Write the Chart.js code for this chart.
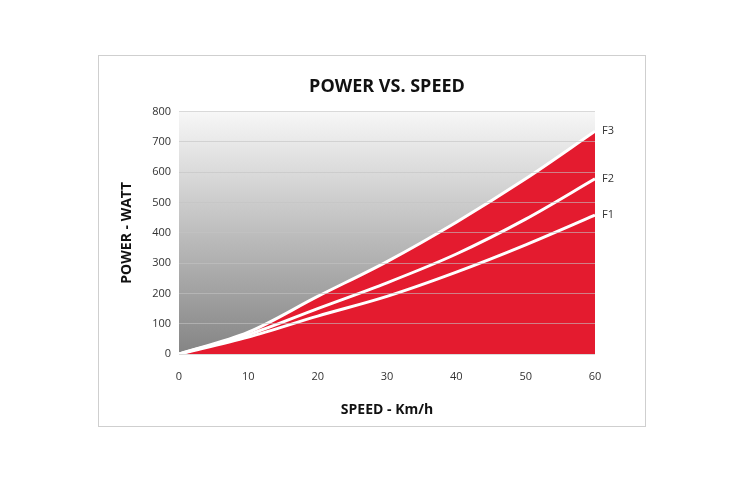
<!DOCTYPE html>
<html>
<head>
<meta charset="utf-8">
<script src="https://cdn.jsdelivr.net/npm/chart.js@4/dist/chart.umd.min.js"></script>
<style>
  html, body { margin: 0; padding: 0; background: #fff; }
  #card {
    position: absolute; left: 98px; top: 55px;
    width: 546px; height: 370px;
    border: 1px solid #cfcfcf;
  }
  #card canvas { display: block; }
</style>
</head>
<body>
<div id="card"><canvas id="chart" width="546" height="370"></canvas></div>
<script>
// speed in km/h
const speeds = [0, 10, 20, 30, 40, 50, 60];
// power in watt
const f1 = [0, 56, 125, 190, 270, 360, 458];
const f2 = [0, 64, 150, 235, 330, 445, 578];
const f3 = [0, 72, 190, 305, 435, 578, 735];
const seriesNames = ['F3', 'F2', 'F1'];
const yTicks = [0, 100, 200, 300, 400, 500, 600, 700, 800];

const FONT = "'Open Sans', sans-serif";
const RED = '#e41b2f';

function points(vals) {
  return speeds.map((s, i) => ({ x: s, y: vals[i] }));
}

// grey gradient behind the curves
const backdrop = {
  id: 'backdrop',
  beforeDatasetsDraw(chart) {
    const { ctx, chartArea: a } = chart;
    const g = ctx.createLinearGradient(0, a.top, 0, a.bottom);
    g.addColorStop(0, '#f7f7f7');
    g.addColorStop(1, '#848484');
    ctx.save();
    ctx.fillStyle = g;
    ctx.fillRect(a.left, a.top, a.right - a.left, a.bottom - a.top);
    ctx.restore();
  }
};

// F1/F2/F3 names next to each line end
const endLabels = {
  id: 'endLabels',
  afterDraw(chart) {
    const { ctx, scales } = chart;
    ctx.save();
    ctx.font = '11px ' + FONT;
    ctx.fillStyle = '#333';
    ctx.textBaseline = 'middle';
    chart.data.datasets.forEach(ds => {
      const last = ds.data[ds.data.length - 1];
      const x = scales.x.getPixelForValue(last.x) + 7;
      const y = scales.y.getPixelForValue(last.y);
      ctx.fillText(ds.label, x, y);
    });
    ctx.restore();
  }
};

window.addEventListener('load', () => {
  new Chart(document.getElementById('chart'), {
    type: 'line',
    data: {
      datasets: [
        { label: seriesNames[0], data: points(f3), fill: 'origin', backgroundColor: RED,
          borderColor: '#fff', borderWidth: 3, order: 3 },
        { label: seriesNames[1], data: points(f2), fill: false,
          borderColor: '#fff', borderWidth: 3, order: 2 },
        { label: seriesNames[2], data: points(f1), fill: false,
          borderColor: '#fff', borderWidth: 3, order: 1 }
      ]
    },
    options: {
      responsive: false,
      animation: false,
      elements: { point: { radius: 0 }, line: { cubicInterpolationMode: 'monotone' } },
      layout: { padding: { left: 0, right: 50, top: 0, bottom: 0 } },
      plugins: {
        legend: { display: false },
        tooltip: { enabled: false },
        title: {
          display: true,
          text: 'POWER VS. SPEED',
          fullSize: false,
          color: '#111',
          font: { family: FONT, size: 18, weight: 'bold' },
          padding: { top: 20, bottom: 14 }
        }
      },
      scales: {
        x: {
          type: 'linear',
          min: 0, max: 60,
          ticks: { stepSize: 10, color: '#333', font: { family: FONT, size: 11 }, padding: 8 },
          grid: { display: false },
          border: { display: false },
          title: {
            display: true, text: 'SPEED - Km/h', color: '#111',
            font: { family: FONT, size: 14, weight: 'bold' },
            padding: { top: 0, bottom: 8 }
          },
          afterFit(s) { s.height = 72; }
        },
        y: {
          min: 0, max: 800,
          afterBuildTicks(s) { s.ticks = yTicks.map(v => ({ value: v })); },
          ticks: { color: '#333', font: { family: FONT, size: 11 }, padding: 8 },
          grid: { color: 'rgba(195,195,195,0.6)', lineWidth: 1, drawTicks: false, z: 1 },
          border: { display: false },
          title: {
            display: true, text: 'POWER - WATT', color: '#111',
            font: { family: FONT, size: 14, weight: 'bold' },
            padding: { top: 20, bottom: 0 }
          },
          afterFit(s) { s.width = 80; }
        }
      }
    },
    plugins: [backdrop, endLabels]
  });
});
</script>
</body>
</html>
